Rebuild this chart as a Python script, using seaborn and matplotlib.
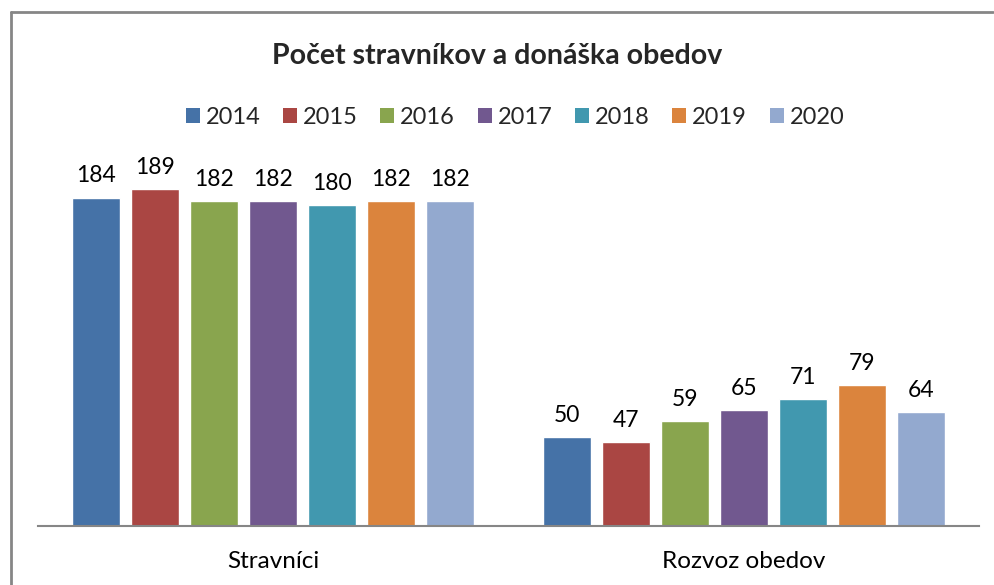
import matplotlib
matplotlib.use("Agg")
import matplotlib.pyplot as plt
from matplotlib.lines import Line2D
from matplotlib.patches import Patch
import seaborn as sns
import pandas as pd

categories = ["Stravníci", "Rozvoz obedov"]
years = ["2014", "2015", "2016", "2017", "2018", "2019", "2020"]
stravnici = [184, 189, 182, 182, 180, 182, 182]
rozvoz = [50, 47, 59, 65, 71, 79, 64]
colors = ["#4572A7", "#AA4643", "#89A54E", "#71588F", "#4198AF", "#DB843D", "#93A9CF"]
title = "Počet stravníkov a donáška obedov"

rows = []
for y, a, b in zip(years, stravnici, rozvoz):
    rows.append({"cat": categories[0], "year": y, "val": a})
    rows.append({"cat": categories[1], "year": y, "val": b})
df = pd.DataFrame(rows)

sns.set_style("white")
plt.rcParams["font.family"] = ["Lato", "DejaVu Sans"]

fig = plt.figure(figsize=(9.94, 5.85), dpi=100)
W, H = 994, 585
ax = fig.add_axes([38 / W, 1 - 526 / H, (979 - 38) / W, (526 - 169) / H])

sns.barplot(data=df, x="cat", y="val", hue="year", order=categories, hue_order=years,
            palette=colors, width=0.878, gap=0.186, saturation=1, ax=ax, legend=False)

for cont in ax.containers:
    ax.bar_label(cont, padding=8, fontsize=16.5, color="#000000", clip_on=False)

ax.set_xlim(-0.5, 1.5)
ax.set_ylim(0, 200)
ax.set_xlabel("")
ax.set_ylabel("")
ax.set_yticks([])
for s in ["top", "right", "left"]:
    ax.spines[s].set_visible(False)
ax.spines["bottom"].set_color("#868686")
ax.spines["bottom"].set_linewidth(1.5)
ax.tick_params(axis="x", length=0, labelsize=17.5, pad=18, colors="#000000")

fig.text(0.5, 1 - 56 / H, title, ha="center", va="center", fontsize=20.5, fontweight="bold")

handles = [Patch(facecolor=c, edgecolor="none") for c in colors]
fig.legend(handles, years, loc="center", bbox_to_anchor=(515 / W, 1 - 117 / H), ncol=7,
           frameon=False, fontsize=17, handlelength=0.6, handleheight=0.6,
           handletextpad=0.25, columnspacing=0.95, borderpad=0, borderaxespad=0)

# chart-area border (left and top edges visible)
fig.add_artist(Line2D([11 / W, 11 / W], [0, 1 - 12 / H], color="#868686", lw=2, transform=fig.transFigure))
fig.add_artist(Line2D([11 / W, 993 / W], [1 - 12 / H, 1 - 12 / H], color="#868686", lw=2, transform=fig.transFigure))

fig.savefig("out.png", dpi=100, facecolor="white")
